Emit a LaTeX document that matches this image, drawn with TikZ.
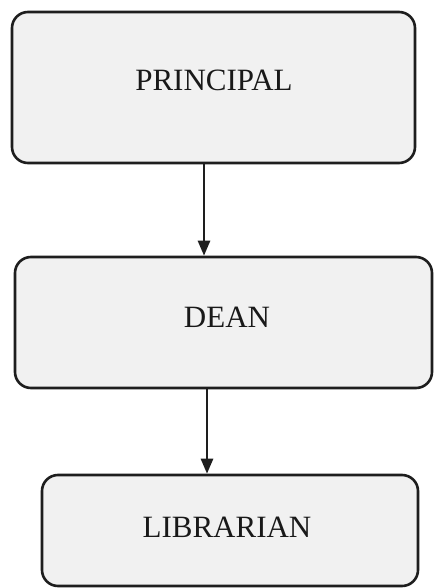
\documentclass[tikz,border=0pt]{standalone}
\usepackage{fontspec}
\setmainfont{Liberation Serif}
\usetikzlibrary{arrows.meta}
\definecolor{boxfill}{HTML}{F1F1F1}
\definecolor{boxline}{HTML}{1E1E1E}
\tikzset{
  orgbox/.style={draw=boxline, fill=boxfill, line width=2.6pt, rounded corners=16pt, inner sep=0pt},
  orgtext/.style={font=\fontsize{31}{36}\selectfont, text=black!90, inner sep=0pt},
  orgarrow/.style={draw=boxline, line width=2.6pt, -{Triangle[length=15pt,width=12pt]}}
}
\begin{document}
\begin{tikzpicture}[x=1pt,y=1pt]
\useasboundingbox[fill=white] (0,0) rectangle (433,-588);
\node[orgbox, minimum width=403pt, minimum height=151pt] (p) at (213.5,-87.5) {};
\node[orgbox, minimum width=417pt, minimum height=131pt] (d) at (223.5,-322.5) {};
\node[orgbox, minimum width=376pt, minimum height=111pt] (l) at (230,-530.5) {};
\node[orgtext] (pt) at (214,-80) {PRINCIPAL};
\node[orgtext] (dt) at (227,-317) {DEAN};
\node[orgtext] (lt) at (227,-527) {LIBRARIAN};
\coordinate (x1) at (204,0);
\coordinate (x2) at (207,0);
\draw[orgarrow] (p.south -| x1) -- (d.north -| x1);
\draw[orgarrow] (d.south -| x2) -- (l.north -| x2);
\end{tikzpicture}
\end{document}
